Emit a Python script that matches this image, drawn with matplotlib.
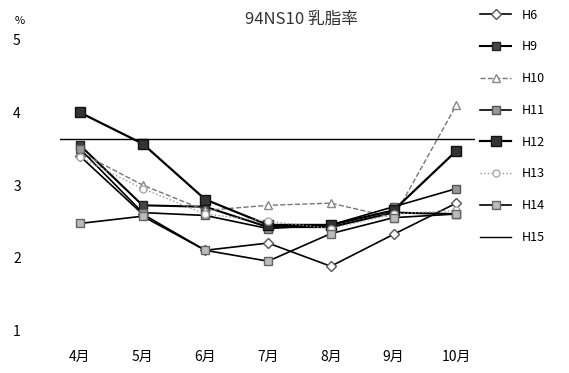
import matplotlib
matplotlib.use("Agg")
import matplotlib.pyplot as plt
import numpy as np

plt.rcParams['font.family'] = ['Noto Sans CJK JP', 'DejaVu Sans']

months = ["4月", "5月", "6月", "7月", "8月", "9月", "10月"]
h6 = [3.40, 2.60, 2.10, 2.20, 1.88, 2.32, 2.75]
h9 = [3.55, 2.72, 2.70, 2.42, 2.42, 2.62, 2.60]
h10 = [3.45, 3.00, 2.65, 2.72, 2.75, 2.55, 4.10]
h11 = [3.50, 2.62, 2.58, 2.40, 2.45, 2.70, 2.95]
h12 = [4.00, 3.57, 2.80, 2.45, 2.45, 2.65, 3.47]
h13 = [3.38, 2.95, 2.60, 2.50, 2.40, 2.60, 2.65]
h14 = [2.47, 2.57, 2.10, 1.95, 2.33, 2.55, 2.60]
h15 = 3.64

x = np.arange(len(months))

fig = plt.figure(figsize=(5.69, 3.73), dpi=100)
ax = fig.add_axes([0.105, 0.115, 0.73, 0.778])

ax.plot(x, h6, color="black", lw=1.2, marker="D", ms=5, mfc="white", mec="#555555", label="H6")
ax.plot(x, h9, color="black", lw=1.5, marker="s", ms=6, mfc="#444444", mec="#222222", label="H9")
ax.plot(x, h10, color="#777777", lw=1, ls="--", marker="^", ms=6, mfc="white", mec="#888888", label="H10")
ax.plot(x, h11, color="black", lw=1.2, marker="s", ms=6, mfc="#999999", mec="#555555", label="H11")
ax.plot(x, h12, color="black", lw=1.6, marker="s", ms=7, mfc="#333333", mec="#111111", label="H12")
ax.plot(x, h13, color="#999999", lw=1, ls=":", marker="o", ms=5, mfc="white", mec="#aaaaaa", label="H13")
ax.plot(x, h14, color="black", lw=1.2, marker="s", ms=6, mfc="#bbbbbb", mec="#666666", label="H14")
ax.axhline(h15, color="black", lw=1, label="H15")

ax.set_xlim(-0.32, 6.3)
ax.set_ylim(1, 5)
ax.set_yticks([1, 2, 3, 4, 5])
ax.set_xticks(x)
ax.set_xticklabels(months, fontsize=10)
ax.tick_params(length=0)
ax.tick_params(axis="x", pad=14)
ax.tick_params(axis="y", pad=28, labelsize=10)
for s in ax.spines.values():
    s.set_visible(False)

fig.text(0.035, 0.935, "%", fontsize=8, ha="center")
fig.text(0.53, 0.935, "94NS10 乳脂率", fontsize=12, ha="center", color="#333333")

fig.legend(loc="upper left", bbox_to_anchor=(0.835, 0.99), frameon=False,
           fontsize=9, handlelength=2.5, labelspacing=1.5, borderaxespad=0)

fig.savefig("out.png", dpi=100)
